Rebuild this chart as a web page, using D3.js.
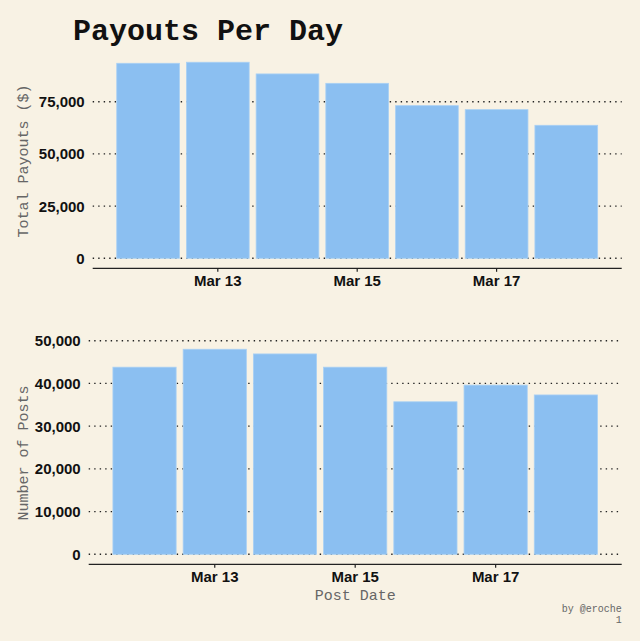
<!DOCTYPE html>
<html>
<head>
<meta charset="utf-8">
<script src="https://cdn.jsdelivr.net/npm/d3@7"></script>
<style>
  html, body { margin: 0; padding: 0; background: #F8F2E4; }
  svg { display: block; }
</style>
</head>
<body>
<svg id="chart" width="640" height="641"></svg>
<script>
const dates = ["2018-03-12","2018-03-13","2018-03-14","2018-03-15","2018-03-16","2018-03-17","2018-03-18"];
const payouts = [93400, 93900, 88300, 83800, 73100, 71200, 63700];
const posts = [43800, 48000, 46900, 43800, 35700, 39600, 37300];
const payoutTicks = [0, 25000, 50000, 75000];
const postTicks = [0, 10000, 20000, 30000, 40000, 50000];
const xTickDates = ["2018-03-13","2018-03-15","2018-03-17"];

const svg = d3.select("#chart");
const bg = "#F8F2E4";
svg.append("rect").attr("width", 640).attr("height", 641).attr("fill", bg);

const parse = d3.utcParse("%Y-%m-%d");
const day = 864e5;
const data = dates.map((d, i) => ({ date: parse(d), payout: payouts[i], posts: posts[i] }));
const xDomain = [new Date(parse(dates[0]).getTime() - 0.795 * day),
                 new Date(parse(dates[dates.length - 1]).getTime() + 0.795 * day)];
const fmtNum = d3.format(",");
const fmtDate = d3.utcFormat("%b %d");

function panel(opts) {
  const x = d3.scaleUtc().domain(xDomain).range([opts.left, opts.right]);
  const y = d3.scaleLinear().domain([0, opts.unit]).range([opts.zero, opts.zero - opts.unitPx]);
  const g = svg.append("g");

  // gridlines
  g.selectAll(".grid").data(opts.ticks).join("line")
    .attr("x1", opts.left).attr("x2", opts.right)
    .attr("y1", d => y(d)).attr("y2", d => y(d))
    .attr("stroke", "#222").attr("stroke-width", 1.4)
    .attr("stroke-dasharray", "1.4,4.1");

  // bars
  const bw = x(new Date(day * 0.9)) - x(new Date(0));
  g.selectAll(".bar").data(data).join("rect")
    .attr("x", d => x(d.date) - bw / 2)
    .attr("width", bw)
    .attr("y", d => y(d[opts.key]))
    .attr("height", d => y(0) - y(d[opts.key]))
    .attr("fill", "#8BBFF1")
    .attr("stroke", "#A9D0F4").attr("stroke-width", 0.8);

  // y tick labels
  g.selectAll(".ylab").data(opts.ticks).join("text")
    .attr("x", opts.left - 8).attr("y", d => y(d))
    .attr("dy", "0.36em")
    .attr("text-anchor", "end")
    .attr("font-family", "'Liberation Sans', Arial, sans-serif")
    .attr("font-weight", "bold").attr("font-size", 15)
    .attr("fill", "#111")
    .text(d => fmtNum(d));

  // x axis line
  g.append("line")
    .attr("x1", opts.left).attr("x2", opts.right)
    .attr("y1", opts.axisY).attr("y2", opts.axisY)
    .attr("stroke", "#222").attr("stroke-width", 1.3);

  const xt = xTickDates.map(parse);
  g.selectAll(".xtick").data(xt).join("line")
    .attr("x1", d => x(d)).attr("x2", d => x(d))
    .attr("y1", opts.axisY).attr("y2", opts.axisY + 3.5)
    .attr("stroke", "#222").attr("stroke-width", 1.2);
  g.selectAll(".xlab").data(xt).join("text")
    .attr("x", d => x(d)).attr("y", opts.axisY + 18)
    .attr("text-anchor", "middle")
    .attr("font-family", "'Liberation Sans', Arial, sans-serif")
    .attr("font-weight", "bold").attr("font-size", 15)
    .attr("fill", "#111")
    .text(d => fmtDate(d));

  // y axis title
  g.append("text")
    .attr("transform", `translate(28,${opts.labelY}) rotate(-90)`)
    .attr("text-anchor", "middle")
    .attr("font-family", "'Liberation Mono', 'Courier New', monospace")
    .attr("font-size", 15)
    .attr("fill", "#666")
    .text(opts.ylabel);
}

panel({ key: "payout", left: 92.7, right: 621.7, zero: 258.3, unit: 25000, unitPx: 52.2,
        ticks: payoutTicks, axisY: 268.3, labelY: 161, ylabel: "Total Payouts ($)" });
panel({ key: "posts", left: 88.7, right: 621.7, zero: 554.3, unit: 10000, unitPx: 42.72,
        ticks: postTicks, axisY: 564.3, labelY: 453, ylabel: "Number of Posts" });

// title
svg.append("text")
  .attr("x", 73).attr("y", 40)
  .attr("font-family", "'Liberation Mono', 'Courier New', monospace")
  .attr("font-weight", "bold").attr("font-size", 30)
  .attr("fill", "#111")
  .text("Payouts Per Day");

// x axis title
svg.append("text")
  .attr("x", 355.2).attr("y", 599.5)
  .attr("text-anchor", "middle")
  .attr("font-family", "'Liberation Mono', 'Courier New', monospace")
  .attr("font-size", 15)
  .attr("fill", "#666")
  .text("Post Date");

// caption
svg.append("text")
  .attr("x", 621.7).attr("y", 612)
  .attr("text-anchor", "end")
  .attr("font-family", "'Liberation Mono', 'Courier New', monospace")
  .attr("font-size", 10)
  .attr("fill", "#666")
  .text("by @eroche");
svg.append("text")
  .attr("x", 621.7).attr("y", 623)
  .attr("text-anchor", "end")
  .attr("font-family", "'Liberation Mono', 'Courier New', monospace")
  .attr("font-size", 10)
  .attr("fill", "#666")
  .text("1");
</script>
</body>
</html>
